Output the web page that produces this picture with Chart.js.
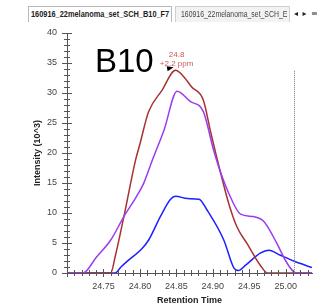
<!DOCTYPE html>
<html>
<head>
<meta charset="utf-8">
<script src="https://cdn.jsdelivr.net/npm/chart.js@4/dist/chart.umd.min.js"></script>
<style>
  html, body { margin: 0; padding: 0; background: #fff; }
  #wrap { position: relative; width: 323px; height: 306px; overflow: hidden; }
  #chart { position: absolute; left: 0; top: 0; }
  .tab { position: absolute; top: 6px; height: 16px; box-sizing: border-box; border: 1px solid #b8b8b8; border-bottom: none;
         font-family: "Liberation Sans", Arial, sans-serif; font-size: 8.5px; line-height: 15px; white-space: nowrap; overflow: hidden; color: #222; }
  .tab span { display: inline-block; transform-origin: 0 50%; }
  #tab1 { left: 28px; width: 144px; background: #fff; font-weight: bold; padding-left: 2px; }
  #tab2 { left: 175px; width: 115px; background: #f2f2f2; color: #444; padding-left: 5px; border-color: #cfcfcf; }
  #nav { position: absolute; top: 6px; left: 294px; width: 40px; white-space: nowrap; font-family: "DejaVu Sans", sans-serif; font-size: 8px; line-height: 16px; color: #222; letter-spacing: 1px; }
</style>
</head>
<body>
<div id="wrap">
  <canvas id="chart" width="323" height="306"></canvas>
  <div class="tab" id="tab1"><span data-w="138">160916_22melanoma_set_SCH_B10_F7</span></div>
  <div class="tab" id="tab2"><span data-w="106">160916_22melanoma_set_SCH_E</span></div>
  <div id="nav">◂ ▸ ≡ :</div>
</div>
<script>
// retention time (x) / intensity in 10^3 (y)
const redTime = [24.700, 24.760, 24.766, 24.778, 24.794, 24.800, 24.812, 24.830, 24.849, 24.858, 24.871, 24.887, 24.897, 24.910, 24.922, 24.933, 24.947, 24.965, 24.975, 25.040];
const redInt  = [0, 0, 2.7, 9.4, 18.8, 21.5, 26.9, 30.4, 33.8, 33.0, 31.0, 28.8, 23.5, 17.0, 11.5, 7.7, 4.9, 1.3, 0, 0];

const purpleTime = [24.700, 24.722, 24.740, 24.760, 24.778, 24.795, 24.805, 24.817, 24.833, 24.851, 24.869, 24.887, 24.901, 24.910, 24.924, 24.938, 24.956, 24.970, 24.988, 25.000, 25.011, 25.016, 25.040];
const purpleInt  = [0, 0, 2.6, 5.5, 9.4, 12.7, 14.9, 18.8, 23.8, 30.3, 28.6, 26.9, 20.5, 17.0, 12.7, 9.8, 9.4, 8.6, 4.9, 2.0, 0.2, 0, 0];

const blueTime = [24.700, 24.766, 24.774, 24.782, 24.803, 24.812, 24.828, 24.842, 24.849, 24.865, 24.881, 24.892, 24.915, 24.929, 24.935, 24.945, 24.965, 24.977, 24.992, 25.011, 25.036];
const blueInt  = [0, 0, 1.0, 1.9, 4.1, 5.5, 9.4, 12.3, 12.8, 12.4, 12.3, 10.5, 5.5, 0.8, 0.4, 1.3, 3.3, 3.8, 3.0, 2.0, 0.9];

const peakTime = 24.849;
const peakLabel = ['24.8', '+2.2 ppm'];
const markerTime = 25.011;
const markerTop = 33.7;
const sampleLabel = 'B10';

// squeeze tab captions to the width seen in the screenshot
document.querySelectorAll('.tab span').forEach(el => {
    const w = Number(el.dataset.w);
    el.style.transform = 'scaleX(' + (w / el.offsetWidth) + ')';
});

function toPoints(xs, ys) {
    return xs.map((x, i) => ({ x: x, y: ys[i] }));
}

// ticks crossing the axes, dotted marker, peak label and sample name
const extras = {
    id: 'extras',
    afterDraw(chart) {
        const { ctx, scales: { x, y } } = chart;
        ctx.save();
        ctx.strokeStyle = '#555';
        ctx.lineWidth = 1;
        ctx.beginPath();
        for (let v = 0; v <= 40; v++) {
            const py = Math.round(y.getPixelForValue(v)) + 0.5;
            const half = v % 5 === 0 ? 5 : 3;
            ctx.moveTo(x.left - half, py);
            ctx.lineTo(x.left + half, py);
        }
        for (let i = 0; i <= 34; i++) {
            const v = 24.70 + i * 0.01;
            if (v > x.max) break;
            const px = Math.round(x.getPixelForValue(v)) + 0.5;
            const half = i % 5 === 0 ? 4 : 3;
            ctx.moveTo(px, y.bottom - half);
            ctx.lineTo(px, y.bottom + half);
        }
        ctx.stroke();

        // dotted vertical marker
        const mx = Math.round(x.getPixelForValue(markerTime)) + 0.5;
        ctx.strokeStyle = '#777';
        ctx.setLineDash([1, 1]);
        ctx.beginPath();
        ctx.moveTo(mx, y.getPixelForValue(markerTop));
        ctx.lineTo(mx, y.bottom);
        ctx.stroke();
        ctx.setLineDash([]);

        // peak annotation
        const px = x.getPixelForValue(peakTime);
        const py = y.getPixelForValue(redInt[8]);
        ctx.fillStyle = '#cc5a5a';
        ctx.font = '8px "Liberation Sans", Arial, sans-serif';
        ctx.textAlign = 'center';
        ctx.textBaseline = 'middle';
        ctx.fillText(peakLabel[0], px + 1, py - 15);
        ctx.fillText(peakLabel[1], px + 1, py - 6.5);
        ctx.fillStyle = '#000';
        ctx.beginPath();
        ctx.moveTo(px - 9, py - 4);
        ctx.lineTo(px - 2, py - 3);
        ctx.lineTo(px - 8, py + 1);
        ctx.closePath();
        ctx.fill();

        // sample name
        ctx.font = '33px "Liberation Sans", Arial, sans-serif';
        ctx.textAlign = 'left';
        ctx.textBaseline = 'alphabetic';
        ctx.fillText(sampleLabel, 95, 72);
        ctx.restore();
    }
};

const tickFont = { family: '"Liberation Sans", Arial, sans-serif', size: 9 };
const titleFont = { family: '"Liberation Sans", Arial, sans-serif', size: 9, weight: 'bold' };

new Chart(document.getElementById('chart'), {
    type: 'line',
    data: {
        datasets: [
            { label: 'purple', data: toPoints(purpleTime, purpleInt), borderColor: '#9a3cf0', borderWidth: 1.5, pointRadius: 0, cubicInterpolationMode: 'monotone' },
            { label: 'red', data: toPoints(redTime, redInt), borderColor: '#a83232', borderWidth: 1.5, pointRadius: 0, cubicInterpolationMode: 'monotone' },
            { label: 'blue', data: toPoints(blueTime, blueInt), borderColor: '#1f1fff', borderWidth: 1.5, pointRadius: 0, cubicInterpolationMode: 'monotone' }
        ]
    },
    options: {
        responsive: false,
        animation: false,
        layout: { padding: { top: 33, right: 11, left: 0, bottom: 0 } },
        plugins: { legend: { display: false }, tooltip: { enabled: false } },
        scales: {
            x: {
                type: 'linear',
                min: 24.70,
                max: 25.036,
                afterFit: s => { s.height = 33; },
                afterBuildTicks: s => {
                    s.ticks = [24.75, 24.80, 24.85, 24.90, 24.95, 25.00].map(v => ({ value: v }));
                },
                grid: { display: false, drawTicks: false },
                border: { display: true, color: '#555' },
                ticks: { font: tickFont, color: '#444', padding: 8, maxRotation: 0, callback: v => v.toFixed(2) },
                title: { display: true, text: 'Retention Time', font: titleFont, color: '#222', padding: { top: 0, bottom: 0 } }
            },
            y: {
                min: 0,
                max: 40,
                afterFit: s => { s.width = 67; },
                grid: { display: false, drawTicks: false },
                border: { display: true, color: '#555' },
                ticks: { stepSize: 5, font: tickFont, color: '#444', padding: 10 },
                title: { display: true, text: 'Intensity (10^3)', font: titleFont, color: '#222', padding: { top: 32, bottom: 0 } }
            }
        }
    },
    plugins: [extras]
});
</script>
</body>
</html>
